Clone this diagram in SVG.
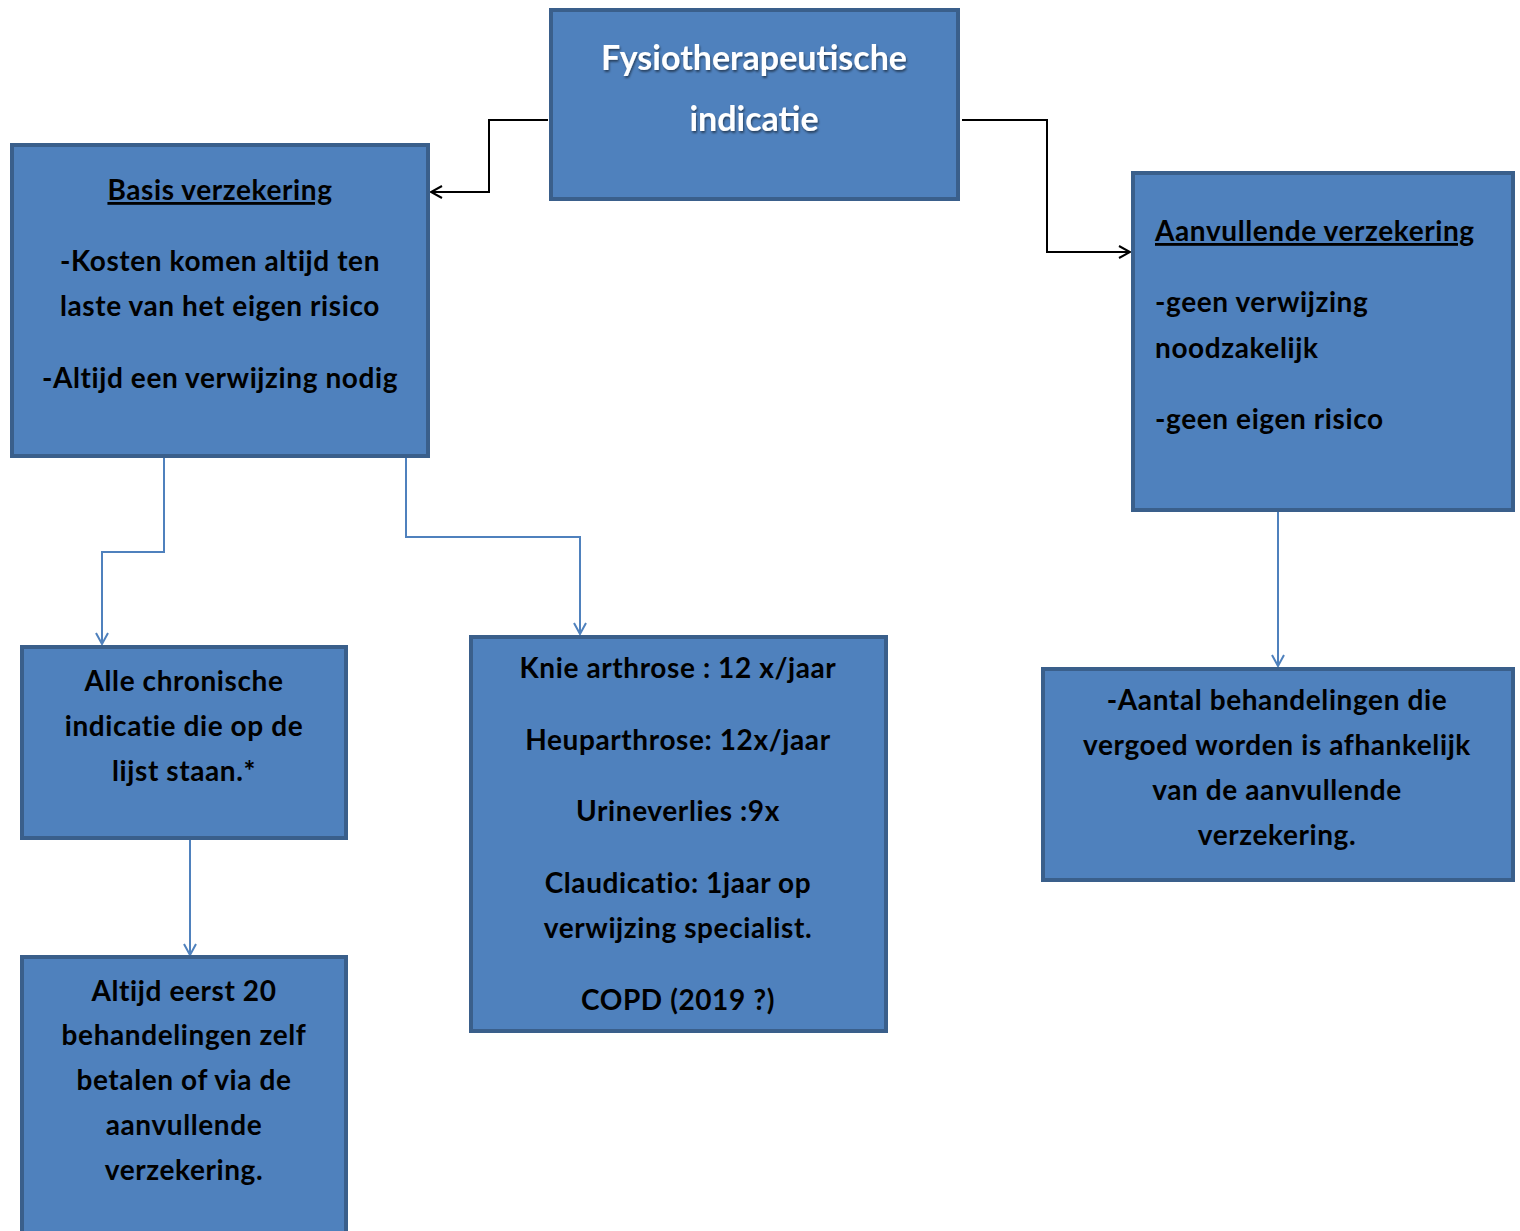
<svg xmlns="http://www.w3.org/2000/svg" width="1520" height="1231" viewBox="0 0 1520 1231">
<style>
.box{fill:#4F81BD;stroke:#3A5F8B;stroke-width:4}
.t{font-family:Lato,"Liberation Sans",sans-serif;font-weight:bold;font-size:28px;letter-spacing:0.6px;fill:#000}
.c{text-anchor:middle}
.u{text-decoration:underline}
.title{font-family:Lato,"Liberation Sans",sans-serif;font-weight:bold;font-size:34px;fill:#fff;text-anchor:middle}
.k{fill:none;stroke:#000;stroke-width:2}
.b{fill:none;stroke:#4F81BD;stroke-width:2}
</style>
<defs>
<marker id="ak" markerWidth="14" markerHeight="14" refX="12" refY="7" orient="auto" markerUnits="userSpaceOnUse"><path d="M1,1 L12,7 L1,13" fill="none" stroke="#000" stroke-width="2"/></marker>
<marker id="ab" markerWidth="14" markerHeight="14" refX="12" refY="7" orient="auto" markerUnits="userSpaceOnUse"><path d="M1,1 L12,7 L1,13" fill="none" stroke="#4F81BD" stroke-width="2"/></marker>
<filter id="sh" x="-10%" y="-20%" width="120%" height="140%"><feDropShadow dx="1" dy="2" stdDeviation="1.2" flood-color="#000" flood-opacity="0.5"/></filter>
</defs>
<g id="connectors">
<polyline class="k" points="548,120 489,120 489,192 431,192" marker-end="url(#ak)"/>
<polyline class="k" points="962,120 1047,120 1047,252 1130,252" marker-end="url(#ak)"/>
<polyline class="b" points="164,458 164,552 102,552 102,644" marker-end="url(#ab)"/>
<polyline class="b" points="406,440 406,537 580,537 580,634" marker-end="url(#ab)"/>
<polyline class="b" points="1278,512 1278,666" marker-end="url(#ab)"/>
<polyline class="b" points="190,840 190,955" marker-end="url(#ab)"/>
</g>
<g id="node-top">
<rect class="box" x="551" y="10" width="407" height="189"/>
<text class="title" x="754" y="70" filter="url(#sh)">Fysiotherapeutische</text>
<text class="title" x="754" y="131" filter="url(#sh)">indicatie</text>
</g>
<g id="node-basis">
<rect class="box" x="12" y="145" width="416" height="311"/>
<text class="t c u" x="220" y="200">Basis verzekering</text>
<text class="t c" x="220" y="271">-Kosten komen altijd ten</text>
<text class="t c" x="220" y="316">laste van het eigen risico</text>
<text class="t c" x="220" y="388">-Altijd een verwijzing nodig</text>
</g>
<g id="node-aanvullend">
<rect class="box" x="1133" y="173" width="380" height="337"/>
<text class="t u" x="1155" y="241">Aanvullende verzekering</text>
<text class="t" x="1155" y="312">-geen verwijzing</text>
<text class="t" x="1155" y="358">noodzakelijk</text>
<text class="t" x="1155" y="429">-geen eigen risico</text>
</g>
<g id="node-chronisch">
<rect class="box" x="22" y="647" width="324" height="191"/>
<text class="t c" x="184" y="691">Alle chronische</text>
<text class="t c" x="184" y="736">indicatie die op de</text>
<text class="t c" x="184" y="781">lijst staan.*</text>
</g>
<g id="node-knie">
<rect class="box" x="471" y="637" width="415" height="394"/>
<text class="t c" x="678" y="678">Knie arthrose : 12 x/jaar</text>
<text class="t c" x="678" y="750">Heuparthrose: 12x/jaar</text>
<text class="t c" x="678" y="821">Urineverlies :9x</text>
<text class="t c" x="678" y="893">Claudicatio: 1jaar op</text>
<text class="t c" x="678" y="938">verwijzing specialist.</text>
<text class="t c" x="678" y="1010">COPD (2019 ?)</text>
</g>
<g id="node-aantal">
<rect class="box" x="1043" y="669" width="470" height="211"/>
<text class="t c" x="1277" y="710">-Aantal behandelingen die</text>
<text class="t c" x="1277" y="755">vergoed worden is afhankelijk</text>
<text class="t c" x="1277" y="800">van de aanvullende</text>
<text class="t c" x="1277" y="845">verzekering.</text>
</g>
<g id="node-eerst">
<rect class="box" x="22" y="957" width="324" height="300"/>
<text class="t c" x="184" y="1001">Altijd eerst 20</text>
<text class="t c" x="184" y="1045">behandelingen zelf</text>
<text class="t c" x="184" y="1090">betalen of via de</text>
<text class="t c" x="184" y="1135">aanvullende</text>
<text class="t c" x="184" y="1180">verzekering.</text>
</g>
</svg>
